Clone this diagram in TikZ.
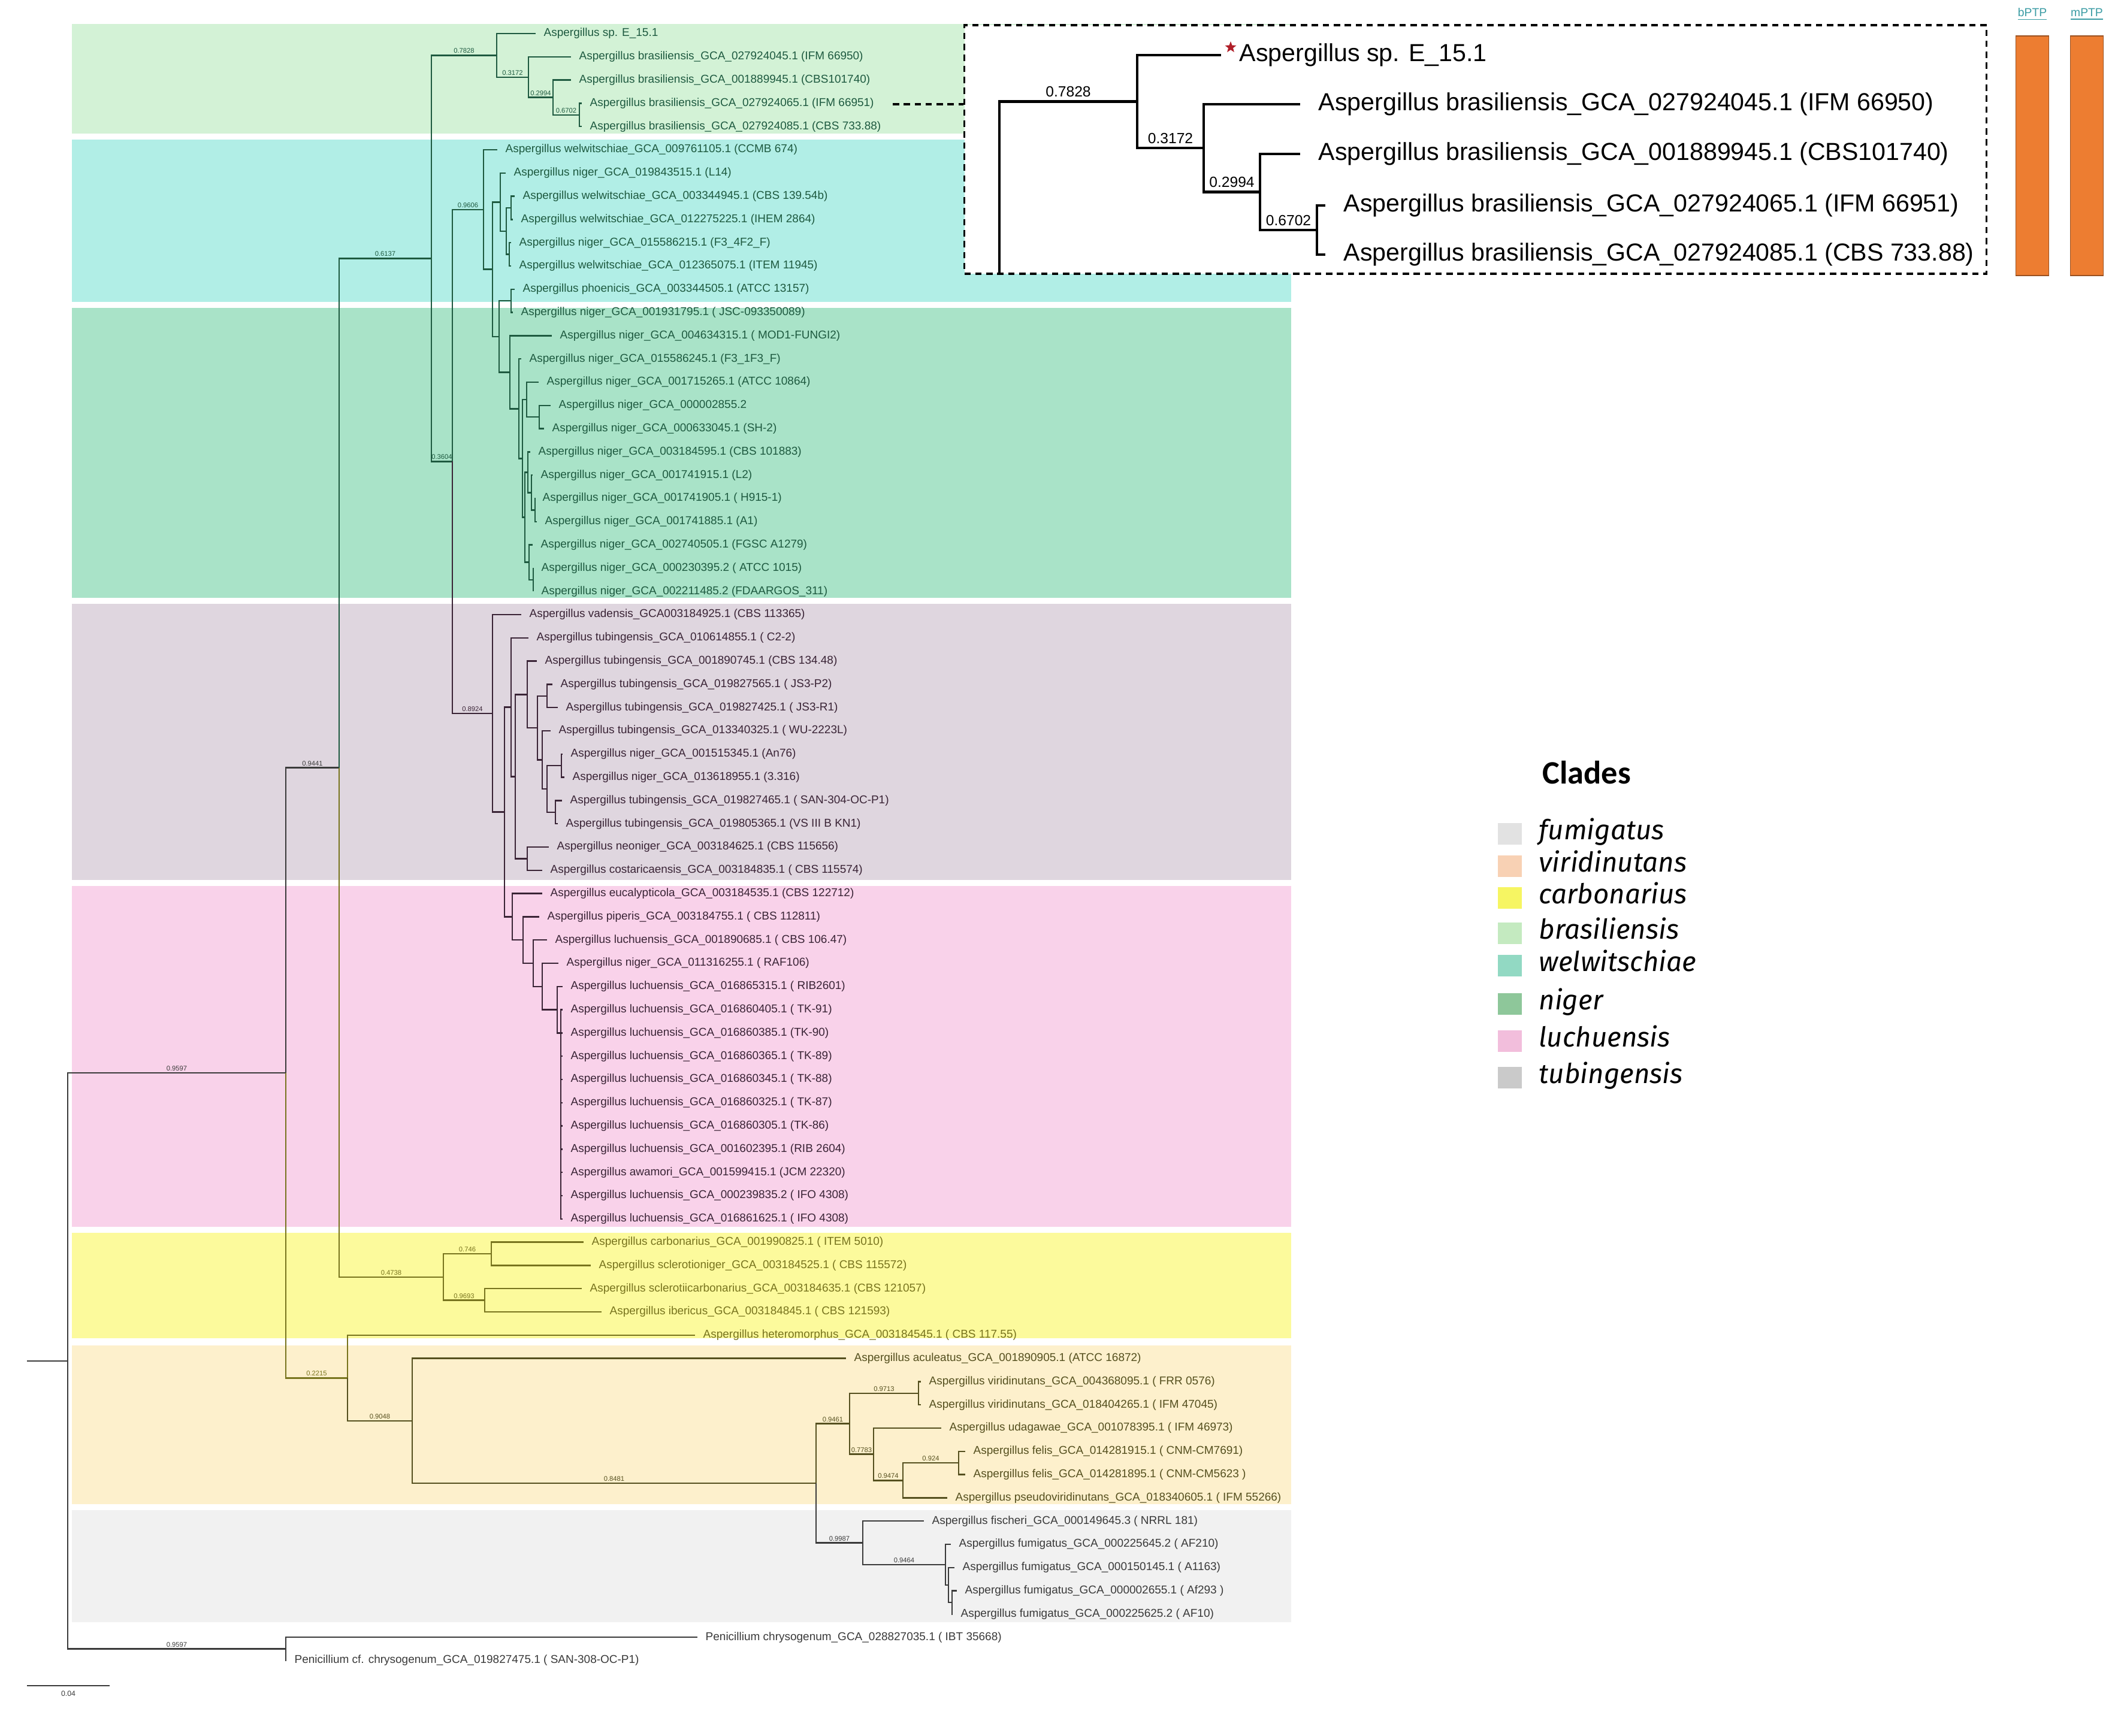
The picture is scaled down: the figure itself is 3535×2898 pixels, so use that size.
\documentclass[tikz,border=0pt]{standalone}
\usepackage{fontspec}
\setmainfont{Liberation Sans}
\newfontfamily\legfont{Fira Sans}
\newfontfamily\titfont{Carlito}
\usetikzlibrary{shapes.geometric}
\definecolor{bgbras}{HTML}{D3F2D6}
\definecolor{bgwelw}{HTML}{B1EEE6}
\definecolor{bgniger}{HTML}{A9E3C8}
\definecolor{bgtub}{HTML}{DFD6DF}
\definecolor{bgluch}{HTML}{F9D2EA}
\definecolor{bgcarb}{HTML}{FCFA9C}
\definecolor{bgviri}{HTML}{FDF0CC}
\definecolor{bgfumi}{HTML}{F1F1F1}
\definecolor{cgreen}{HTML}{1E5A40}
\definecolor{cpurp}{HTML}{3A2436}
\definecolor{colive}{HTML}{78741E}
\definecolor{cbrown}{HTML}{55501F}
\definecolor{cdark}{HTML}{3A3A3A}
\definecolor{corange}{HTML}{ED7D31}
\definecolor{cteal}{HTML}{3B9CA4}
\definecolor{cstar}{HTML}{B01E28}
\definecolor{lgfumi}{HTML}{E2E2E2}
\definecolor{lgviri}{HTML}{F8D1B4}
\definecolor{lgcarb}{HTML}{F6F562}
\definecolor{lgbras}{HTML}{C4EAC0}
\definecolor{lgwelw}{HTML}{92D9C3}
\definecolor{lgniger}{HTML}{8EC79A}
\definecolor{lgluch}{HTML}{F2BEDC}
\definecolor{lgtub}{HTML}{CACACA}
\newcommand\lf[4]{\node[leaf] (#1) at ({#3-13},{56+38.8*(#2-1)}) {#4};}
\newcommand\edg[2]{\draw[br] (#1) |- (#2);}
\newcommand\edl[2]{\draw[br] (#1) |- (#2.west);}
\newcommand\eds[3]{\draw[br] (#1) |- node[supv,pos=0.75] (s#2) {#3} (#2);}
\begin{document}
\begin{tikzpicture}[x=0.01cm,y=-0.01cm,
  br/.style={line width=0.7pt},
  leaf/.style={anchor=west,inner xsep=0.13cm,inner ysep=0pt,font=\fontsize{5.4}{6}\selectfont},
  supv/.style={above,inner sep=0.6pt,font=\fontsize{3.2}{3.6}\selectfont},
  ibr/.style={line width=1.2pt,black},
  ileaf/.style={anchor=west,inner xsep=0.3cm,inner ysep=0pt,font=\fontsize{11.7}{13}\selectfont,text=black},
  isupv/.style={above,inner sep=1.5pt,font=\fontsize{7}{8}\selectfont,text=black},
  legsq/.style={minimum width=0.4cm,minimum height=0.36cm,inner sep=0pt},
  legtx/.style={anchor=mid west,inner sep=0pt,font=\legfont\itshape\fontsize{13}{15}\selectfont},
  hdr/.style={font=\fontsize{5.5}{6}\selectfont,text=cteal,inner sep=0pt},
  barbox/.style={draw=corange!65!black,line width=0.5pt,fill=corange,minimum width=0.55cm,minimum height=4.0cm,inner sep=0pt}]
\useasboundingbox (0,0) rectangle (3535,2898);
\fill[white] (0,0) rectangle (3535,2898);
% clade bands
\fill[bgbras] (120,40) rectangle (2155,223);
\fill[bgwelw] (120,233) rectangle (2155,504);
\fill[bgniger] (120,514) rectangle (2155,998);
\fill[bgtub] (120,1008) rectangle (2155,1469);
\fill[bgluch] (120,1479) rectangle (2155,2048);
\fill[bgcarb] (120,2058) rectangle (2155,2234);
\fill[bgviri] (120,2246) rectangle (2155,2511);
\fill[bgfumi] (120,2521) rectangle (2155,2708);

% backbone
\coordinate (R0) at (45,2271.8);
\coordinate (R) at (113,2271.8);
\coordinate (A) at (477,1791);
\coordinate (P) at (477,2752.6);
\coordinate (B) at (566,1281.6);
\coordinate (C) at (580,2300.4);
\coordinate (D) at (720,431.35);
\coordinate (E) at (740,2131.8);
\begin{scope}[cdark]
\draw[br] (R0) -- (R);
\eds{R}{A}{0.9597}
\eds{R}{P}{0.9597}
\eds{A}{B}{0.9441}
\lf{t70}{70}{1177}{Penicillium chrysogenum\_GCA\_028827035.1 ( IBT 35668)}
\lf{t71}{71}{491}{Penicillium cf. chrysogenum\_GCA\_019827475.1 ( SAN-308-OC-P1)}
\edl{P}{t70}
\edl{P}{t71}
\end{scope}

% green part
\begin{scope}[cgreen]
\coordinate (Bra) at (829,92.4);
\coordinate (b1) at (882,128.8);
\coordinate (b2) at (923,162.7);
\coordinate (b3) at (967,191.8);
\coordinate (F) at (755,770.3);
\coordinate (G) at (807,349.8);
\coordinate (G2) at (822,449.5);
\coordinate (G3) at (835,337.3);
\coordinate (G5) at (845,385.8);
\coordinate (G5a) at (853,347.0);
\coordinate (G5b) at (850,424.6);
\coordinate (G4) at (833,561.8);
\coordinate (G6) at (853,502.2);
\coordinate (G7) at (851,621.3);
\coordinate (G8) at (866,682.3);
\coordinate (G9) at (872,765.3);
\coordinate (G10) at (879,667.1);
\coordinate (G10b) at (900,696.2);
\coordinate (G11) at (876,863.5);
\coordinate (G11a) at (881,788.4);
\coordinate (G11c) at (887,822.3);
\coordinate (G11d) at (893,851.4);
\coordinate (G11b) at (883,938.7);
\coordinate (G11e) at (890,967.8);
\lf{t1}{1}{907}{Aspergillus sp. E\_15.1}
\lf{t2}{2}{966}{Aspergillus brasiliensis\_GCA\_027924045.1 (IFM 66950)}
\lf{t3}{3}{966}{Aspergillus brasiliensis\_GCA\_001889945.1 (CBS101740)}
\lf{t4}{4}{984}{Aspergillus brasiliensis\_GCA\_027924065.1 (IFM 66951)}
\lf{t5}{5}{984}{Aspergillus brasiliensis\_GCA\_027924085.1 (CBS 733.88)}
\lf{t6}{6}{843}{Aspergillus welwitschiae\_GCA\_009761105.1 (CCMB 674)}
\lf{t7}{7}{857}{Aspergillus niger\_GCA\_019843515.1 (L14)}
\lf{t8}{8}{872}{Aspergillus welwitschiae\_GCA\_003344945.1 (CBS 139.54b)}
\lf{t9}{9}{869}{Aspergillus welwitschiae\_GCA\_012275225.1 (IHEM 2864)}
\lf{t10}{10}{866}{Aspergillus niger\_GCA\_015586215.1 (F3\_4F2\_F)}
\lf{t11}{11}{866}{Aspergillus welwitschiae\_GCA\_012365075.1 (ITEM 11945)}
\lf{t12}{12}{872}{Aspergillus phoenicis\_GCA\_003344505.1 (ATCC 13157)}
\lf{t13}{13}{869}{Aspergillus niger\_GCA\_001931795.1 ( JSC-093350089)}
\lf{t14}{14}{934}{Aspergillus niger\_GCA\_004634315.1 ( MOD1-FUNGI2)}
\lf{t15}{15}{883}{Aspergillus niger\_GCA\_015586245.1 (F3\_1F3\_F)}
\lf{t16}{16}{912}{Aspergillus niger\_GCA\_001715265.1 (ATCC 10864)}
\lf{t17}{17}{932}{Aspergillus niger\_GCA\_000002855.2}
\lf{t18}{18}{921}{Aspergillus niger\_GCA\_000633045.1 (SH-2)}
\lf{t19}{19}{898}{Aspergillus niger\_GCA\_003184595.1 (CBS 101883)}
\lf{t20}{20}{902}{Aspergillus niger\_GCA\_001741915.1 (L2)}
\lf{t21}{21}{905}{Aspergillus niger\_GCA\_001741905.1 ( H915-1)}
\lf{t22}{22}{909}{Aspergillus niger\_GCA\_001741885.1 (A1)}
\lf{t23}{23}{902}{Aspergillus niger\_GCA\_002740505.1 (FGSC A1279)}
\lf{t24}{24}{903}{Aspergillus niger\_GCA\_000230395.2 ( ATCC 1015)}
\lf{t25}{25}{903}{Aspergillus niger\_GCA\_002211485.2 (FDAARGOS\_311)}
\eds{B}{D}{0.6137}
\eds{D}{Bra}{0.7828}
\eds{D}{F}{0.3604}
\edl{Bra}{t1}
\eds{Bra}{b1}{0.3172}
\edl{b1}{t2}
\eds{b1}{b2}{0.2994}
\edl{b2}{t3}
\eds{b2}{b3}{0.6702}
\edl{b3}{t4}
\edl{b3}{t5}
\eds{F}{G}{0.9606}
\edl{G}{t6}
\edg{G}{G2}
\edg{G2}{G3}
\edg{G2}{G4}
\edl{G3}{t7}
\edg{G3}{G5}
\edg{G5}{G5a}
\edg{G5}{G5b}
\edl{G5a}{t8}
\edl{G5a}{t9}
\edl{G5b}{t10}
\edl{G5b}{t11}
\edg{G4}{G6}
\edg{G4}{G7}
\edl{G6}{t12}
\edl{G6}{t13}
\edl{G7}{t14}
\edg{G7}{G8}
\edl{G8}{t15}
\edg{G8}{G9}
\edg{G9}{G10}
\edg{G9}{G11}
\edl{G10}{t16}
\edg{G10}{G10b}
\edl{G10b}{t17}
\edl{G10b}{t18}
\edg{G11}{G11a}
\edg{G11}{G11b}
\edl{G11a}{t19}
\edg{G11a}{G11c}
\edl{G11c}{t20}
\edg{G11c}{G11d}
\edl{G11d}{t21}
\edl{G11d}{t22}
\edl{G11b}{t23}
\edg{G11b}{G11e}
\edl{G11e}{t24}
\edl{G11e}{t25}
\end{scope}

% purple part
\begin{scope}[cpurp]
\coordinate (H) at (822,1190.75);
\coordinate (H2) at (842,1355.5);
\coordinate (H3) at (853,1180.6);
\coordinate (H5) at (860,1296.4);
\coordinate (H6) at (880,1159.4);
\coordinate (H8) at (897,1215.15);
\coordinate (H9) at (913,1161.8);
\coordinate (H10) at (905,1268.5);
\coordinate (H11) at (913,1317.0);
\coordinate (H12) at (937,1278.2);
\coordinate (H13) at (927,1355.8);
\coordinate (H7) at (880,1433.4);
\coordinate (L1) at (855,1530.4);
\coordinate (L2) at (873,1569.2);
\coordinate (L3) at (890,1608.0);
\coordinate (L4) at (905,1646.8);
\coordinate (c42) at (930,1685.56);
\coordinate (c43) at (936,1724.33);
\coordinate (c44) at (936,1763.05);
\coordinate (c45) at (936,1801.7);
\coordinate (c46) at (936,1840.2);
\coordinate (c47) at (936,1878.39);
\coordinate (c48) at (936,1915.98);
\coordinate (c49) at (936,1952.35);
\coordinate (c50) at (936,1986.3);
\coordinate (c51) at (936,2015.4);
\lf{t26}{26}{883}{Aspergillus vadensis\_GCA003184925.1 (CBS 113365)}
\lf{t27}{27}{895}{Aspergillus tubingensis\_GCA\_010614855.1 ( C2-2)}
\lf{t28}{28}{909}{Aspergillus tubingensis\_GCA\_001890745.1 (CBS 134.48)}
\lf{t29}{29}{935}{Aspergillus tubingensis\_GCA\_019827565.1 ( JS3-P2)}
\lf{t30}{30}{944}{Aspergillus tubingensis\_GCA\_019827425.1 ( JS3-R1)}
\lf{t31}{31}{932}{Aspergillus tubingensis\_GCA\_013340325.1 ( WU-2223L)}
\lf{t32}{32}{952}{Aspergillus niger\_GCA\_001515345.1 (An76)}
\lf{t33}{33}{955}{Aspergillus niger\_GCA\_013618955.1 (3.316)}
\lf{t34}{34}{951}{Aspergillus tubingensis\_GCA\_019827465.1 ( SAN-304-OC-P1)}
\lf{t35}{35}{944}{Aspergillus tubingensis\_GCA\_019805365.1 (VS III B KN1)}
\lf{t36}{36}{929}{Aspergillus neoniger\_GCA\_003184625.1 (CBS 115656)}
\lf{t37}{37}{918}{Aspergillus costaricaensis\_GCA\_003184835.1 ( CBS 115574)}
\lf{t38}{38}{918}{Aspergillus eucalypticola\_GCA\_003184535.1 (CBS 122712)}
\lf{t39}{39}{913}{Aspergillus piperis\_GCA\_003184755.1 ( CBS 112811)}
\lf{t40}{40}{926}{Aspergillus luchuensis\_GCA\_001890685.1 ( CBS 106.47)}
\lf{t41}{41}{945}{Aspergillus niger\_GCA\_011316255.1 ( RAF106)}
\lf{t42}{42}{952}{Aspergillus luchuensis\_GCA\_016865315.1 ( RIB2601)}
\lf{t43}{43}{952}{Aspergillus luchuensis\_GCA\_016860405.1 ( TK-91)}
\lf{t44}{44}{952}{Aspergillus luchuensis\_GCA\_016860385.1 (TK-90)}
\lf{t45}{45}{952}{Aspergillus luchuensis\_GCA\_016860365.1 ( TK-89)}
\lf{t46}{46}{952}{Aspergillus luchuensis\_GCA\_016860345.1 ( TK-88)}
\lf{t47}{47}{952}{Aspergillus luchuensis\_GCA\_016860325.1 ( TK-87)}
\lf{t48}{48}{952}{Aspergillus luchuensis\_GCA\_016860305.1 (TK-86)}
\lf{t49}{49}{952}{Aspergillus luchuensis\_GCA\_001602395.1 (RIB 2604)}
\lf{t50}{50}{952}{Aspergillus awamori\_GCA\_001599415.1 (JCM 22320)}
\lf{t51}{51}{952}{Aspergillus luchuensis\_GCA\_000239835.2 ( IFO 4308)}
\lf{t52}{52}{952}{Aspergillus luchuensis\_GCA\_016861625.1 ( IFO 4308)}
\eds{F}{H}{0.8924}
\edl{H}{t26}
\edg{H}{H2}
\edg{H2}{H3}
\edg{H2}{L1}
\edl{H3}{t27}
\edg{H3}{H5}
\edg{H5}{H6}
\edg{H5}{H7}
\edl{H6}{t28}
\edg{H6}{H8}
\edg{H8}{H9}
\edg{H8}{H10}
\edl{H9}{t29}
\edl{H9}{t30}
\edl{H10}{t31}
\edg{H10}{H11}
\edg{H11}{H12}
\edg{H11}{H13}
\edl{H12}{t32}
\edl{H12}{t33}
\edl{H13}{t34}
\edl{H13}{t35}
\edl{H7}{t36}
\edl{H7}{t37}
\edl{L1}{t38}
\edg{L1}{L2}
\edl{L2}{t39}
\edg{L2}{L3}
\edl{L3}{t40}
\edg{L3}{L4}
\edl{L4}{t41}
\edg{L4}{c42}
\edl{c42}{t42}
\edg{c42}{c43}
\edl{c43}{t43}
\edg{c43}{c44}
\edl{c44}{t44}
\edg{c44}{c45}
\edl{c45}{t45}
\edg{c45}{c46}
\edl{c46}{t46}
\edg{c46}{c47}
\edl{c47}{t47}
\edg{c47}{c48}
\edl{c48}{t48}
\edg{c48}{c49}
\edl{c49}{t49}
\edg{c49}{c50}
\edl{c50}{t50}
\edg{c50}{c51}
\edl{c51}{t51}
\edl{c51}{t52}
\end{scope}

% carbonarius
\begin{scope}[colive]
\coordinate (e1) at (820,2093.0);
\coordinate (e2) at (809,2170.6);
\lf{t53}{53}{987}{Aspergillus carbonarius\_GCA\_001990825.1 ( ITEM 5010)}
\lf{t54}{54}{999}{Aspergillus sclerotioniger\_GCA\_003184525.1 ( CBS 115572)}
\lf{t55}{55}{984}{Aspergillus sclerotiicarbonarius\_GCA\_003184635.1 (CBS 121057)}
\lf{t56}{56}{1017}{Aspergillus ibericus\_GCA\_003184845.1 ( CBS 121593)}
\lf{t57}{57}{1173}{Aspergillus heteromorphus\_GCA\_003184545.1 ( CBS 117.55)}
\eds{B}{E}{0.4738}
\eds{A}{C}{0.2215}
\eds{E}{e1}{0.746}
\eds{E}{e2}{0.9693}
\edl{e1}{t53}
\edl{e1}{t54}
\edl{e2}{t55}
\edl{e2}{t56}
\edl{C}{t57}
\end{scope}

% viridinutans
\begin{scope}[cbrown]
\coordinate (I) at (688,2371.9);
\coordinate (J) at (1362,2476.2);
\coordinate (K) at (1418,2376.7);
\coordinate (v1) at (1533,2325.8);
\coordinate (v2) at (1458,2427.7);
\coordinate (v3) at (1507,2471.3);
\coordinate (v4) at (1600,2442.2);
\lf{t58}{58}{1425}{Aspergillus aculeatus\_GCA\_001890905.1 (ATCC 16872)}
\lf{t59}{59}{1550}{Aspergillus viridinutans\_GCA\_004368095.1 ( FRR 0576)}
\lf{t60}{60}{1550}{Aspergillus viridinutans\_GCA\_018404265.1 ( IFM 47045)}
\lf{t61}{61}{1584}{Aspergillus udagawae\_GCA\_001078395.1 ( IFM 46973)}
\lf{t62}{62}{1624}{Aspergillus felis\_GCA\_014281915.1 ( CNM-CM7691)}
\lf{t63}{63}{1624}{Aspergillus felis\_GCA\_014281895.1 ( CNM-CM5623 )}
\lf{t64}{64}{1594}{Aspergillus pseudoviridinutans\_GCA\_018340605.1 ( IFM 55266)}
\eds{C}{I}{0.9048}
\edl{I}{t58}
\eds{I}{J}{0.8481}
\eds{J}{K}{0.9461}
\eds{K}{v1}{0.9713}
\eds{K}{v2}{0.7783}
\edl{v1}{t59}
\edl{v1}{t60}
\edl{v2}{t61}
\eds{v2}{v3}{0.9474}
\eds{v3}{v4}{0.924}
\edl{v4}{t62}
\edl{v4}{t63}
\edl{v3}{t64}
\end{scope}

% fumigatus
\begin{scope}[cdark]
\coordinate (L) at (1440,2575.6);
\coordinate (f1) at (1578,2612.0);
\coordinate (f2) at (1583,2645.9);
\coordinate (f3) at (1589,2675.0);
\lf{t65}{65}{1555}{Aspergillus fischeri\_GCA\_000149645.3 ( NRRL 181)}
\lf{t66}{66}{1600}{Aspergillus fumigatus\_GCA\_000225645.2 ( AF210)}
\lf{t67}{67}{1606}{Aspergillus fumigatus\_GCA\_000150145.1 ( A1163)}
\lf{t68}{68}{1610}{Aspergillus fumigatus\_GCA\_000002655.1 ( Af293 )}
\lf{t69}{69}{1603}{Aspergillus fumigatus\_GCA\_000225625.2 ( AF10)}
\eds{J}{L}{0.9987}
\edl{L}{t65}
\eds{L}{f1}{0.9464}
\edl{f1}{t66}
\edg{f1}{f2}
\edl{f2}{t67}
\edg{f2}{f3}
\edl{f3}{t68}
\edl{f3}{t69}
\end{scope}

% scale bar
\coordinate (sb1) at (45,2814);
\coordinate (sb2) at (183,2814);
\draw[cdark,line width=0.8pt] (sb1) -- node[below,inner sep=2pt,font=\fontsize{3.5}{4}\selectfont] (sbl) {0.04} (sb2);

% inset
\node[draw=black,line width=1.1pt,dash pattern=on 3pt off 2.2pt,fill=white,minimum width=17.05cm,minimum height=4.15cm,inner sep=0pt] (ibox) at (2462.5,249.5) {};
\coordinate (lead) at (1490,174);
\draw[line width=1.1pt,dash pattern=on 3pt off 2.2pt] (lead) -- (lead -| ibox.west);
\coordinate (in0) at (1668,169.6);
\coordinate (in0b) at (1668,455);
\coordinate (in1) at (1898,169.6);
\coordinate (in2) at (2009,247.25);
\coordinate (in3) at (2103,320.5);
\coordinate (in4) at (2198,384);
\node[ileaf] (i1) at (2038,92) {Aspergillus sp. E\_15.1};
\node[ileaf] (i2) at (2170,174) {Aspergillus brasiliensis\_GCA\_027924045.1 (IFM 66950)};
\node[ileaf] (i3) at (2170,257) {Aspergillus brasiliensis\_GCA\_001889945.1 (CBS101740)};
\node[ileaf] (i4) at (2212,343) {Aspergillus brasiliensis\_GCA\_027924065.1 (IFM 66951)};
\node[ileaf] (i5) at (2212,425) {Aspergillus brasiliensis\_GCA\_027924085.1 (CBS 733.88)};
\node[star,star points=5,star point ratio=2.4,fill=cstar,inner sep=0pt,minimum size=0.2cm] (istar) at (2054,79) {};
\draw[ibr] (in0b) -- (in0) -- node[isupv] (si1) {0.7828} (in1);
\draw[ibr] (in1) |- (i1.west);
\draw[ibr] (in1) |- node[isupv,pos=0.75] (si2) {0.3172} (in2);
\draw[ibr] (in2) |- (i2.west);
\draw[ibr] (in2) |- node[isupv,pos=0.75] (si3) {0.2994} (in3);
\draw[ibr] (in3) |- (i3.west);
\draw[ibr] (in3) |- node[isupv,pos=0.75] (si4) {0.6702} (in4);
\draw[ibr] (in4) |- (i4.west);
\draw[ibr] (in4) |- (i5.west);

% PTP bars
\node[barbox] (bar1) at (3392,260) {};
\node[barbox] (bar2) at (3483,260) {};
\node[hdr] (hb) at (3392,24) {\underline{bPTP}};
\node[hdr] (hm) at (3483,24) {\underline{mPTP}};

% legend
\node[font=\titfont\bfseries\fontsize{15.5}{18}\selectfont,inner sep=0pt] (ltitle) at (2648,1290) {Clades};
\node[legsq,fill=lgfumi] (q1) at (2520,1392) {};
\node[legtx] (l1) at (2568,1392) {fumigatus};
\node[legsq,fill=lgviri] (q2) at (2520,1446) {};
\node[legtx] (l2) at (2568,1446) {viridinutans};
\node[legsq,fill=lgcarb] (q3) at (2520,1499) {};
\node[legtx] (l3) at (2568,1499) {carbonarius};
\node[legsq,fill=lgbras] (q4) at (2520,1558) {};
\node[legtx] (l4) at (2568,1558) {brasiliensis};
\node[legsq,fill=lgwelw] (q5) at (2520,1612) {};
\node[legtx] (l5) at (2568,1612) {welwitschiae};
\node[legsq,fill=lgniger] (q6) at (2520,1676) {};
\node[legtx] (l6) at (2568,1676) {niger};
\node[legsq,fill=lgluch] (q7) at (2520,1738) {};
\node[legtx] (l7) at (2568,1738) {luchuensis};
\node[legsq,fill=lgtub] (q8) at (2520,1799) {};
\node[legtx] (l8) at (2568,1799) {tubingensis};
\end{tikzpicture}
\end{document}
